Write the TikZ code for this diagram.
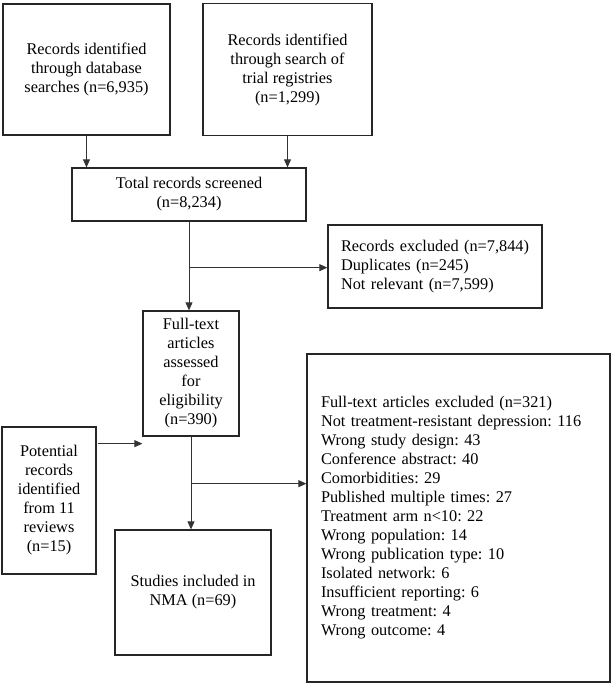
\documentclass[tikz,border=0pt]{standalone}
\usepackage{fontspec}
\setmainfont{Liberation Serif}
\usetikzlibrary{arrows.meta}
\frenchspacing
\begin{document}
\begin{tikzpicture}[x=1bp,y=-1bp,
  box/.style={draw=black!85,line width=1.3bp,inner sep=0pt,align=center,
    font=\fontsize{16.3bp}{19bp}\selectfont,text=black},
  listbox/.style={box,align=left},
  arr/.style={draw=black!80,line width=0.8bp,-{Triangle[length=8bp,width=7bp]}}]
\useasboundingbox (0,0) rectangle (612,685);
\fill[white] (0,0) rectangle (612,685);
\node[box,minimum width=167bp,minimum height=131bp] (A) at (86.5,69.5)
  {Records identified\\through database\\searches (n=6,935)};
\node[box,minimum width=169bp,minimum height=132bp] (B) at (287.5,69.5)
  {Records identified\\through search of\\trial registries\\(n=1,299)};
\node[box,minimum width=234bp,minimum height=53bp] (C) at (189,194.5)
  {Total records screened\\(n=8,234)};
\node[listbox,minimum width=214bp,minimum height=83bp,inner xsep=13bp,text width=188bp] (D) at (435,266.5)
  {Records excluded (n=7,844)\\Duplicates (n=245)\\Not relevant (n=7,599)};
\node[box,minimum width=96bp,minimum height=125bp] (E) at (191,373.5)
  {Full-text\\articles\\assessed\\for\\eligibility\\(n=390)};
\node[box,minimum width=94bp,minimum height=147bp] (P) at (49,500.5)
  {Potential\\records\\identified\\from 11\\reviews\\(n=15)};
\node[box,minimum width=156bp,minimum height=125bp] (G) at (193,592.5)
  {Studies included in\\NMA (n=69)};
\node[listbox,minimum width=303bp,minimum height=328bp,inner xsep=14bp,text width=275bp] (F) at (458.5,518)
  {Full-text articles excluded (n=321)\\
   Not treatment-resistant depression: 116\\
   Wrong study design: 43\\
   Conference abstract: 40\\
   Comorbidities: 29\\
   Published multiple times: 27\\
   Treatment arm n<10: 22\\
   Wrong population: 14\\
   Wrong publication type: 10\\
   Isolated network: 6\\
   Insufficient reporting: 6\\
   Wrong treatment: 4\\
   Wrong outcome: 4};
% connectors
\draw[arr] (A.south) -- (A.south |- C.north);
\draw[arr] (B.south) -- (B.south |- C.north);
\draw[arr] (C.south) -- (C.south |- E.north);
\path (C.south) ++(0,46) coordinate (j1);
\draw[arr] (j1) -- (j1 -| D.west);
\draw[arr] (E.south) -- (E.south |- G.north);
\path (E.south) ++(0,47) coordinate (j2);
\draw[arr] (j2) -- (j2 -| F.west);
\path (E.south west) ++(0,7) coordinate (pin);
\path (P.east |- pin) ++(1,0) coordinate (pout);
\draw[arr] (pout) -- (pin);
\end{tikzpicture}
\end{document}
